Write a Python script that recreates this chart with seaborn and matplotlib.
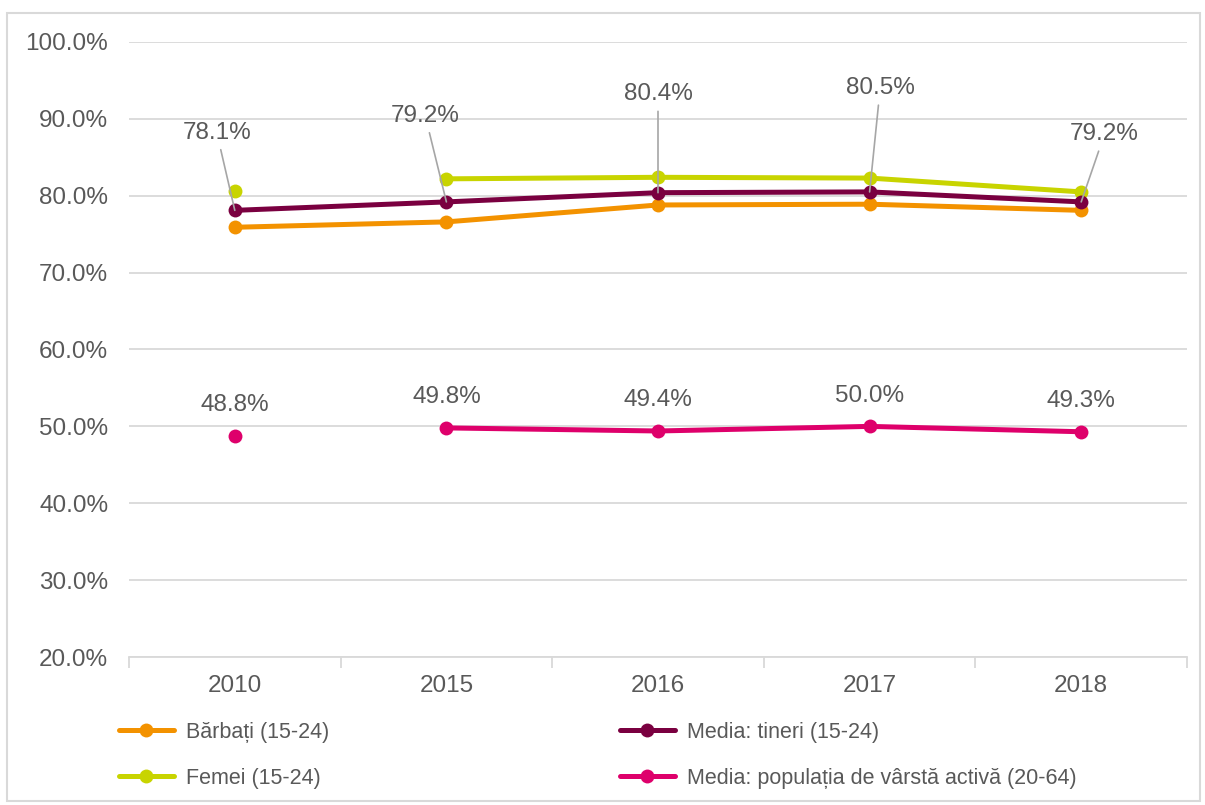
"""
Rata de ocupare / participare (15-24 vs 20-64), 2010-2018
Line chart recreated with seaborn
"""

import pandas as pd
import matplotlib.pyplot as plt
import seaborn as sns
from matplotlib.patches import Rectangle

# ============================================================================
# 1. DATA
# ============================================================================

years = ['2010', '2015', '2016', '2017', '2018']

barbati = [75.9, 76.6, 78.8, 78.9, 78.1]
femei = [80.6, 82.2, 82.4, 82.3, 80.5]
media_tineri = [78.1, 79.2, 80.4, 80.5, 79.2]
media_populatie = [48.8, 49.8, 49.4, 50.0, 49.3]

series_names = ['Bărbați (15-24)', 'Femei (15-24)',
                'Media: tineri (15-24)',
                'Media: populația de vârstă activă (20-64)']

# label positions for the "Media: tineri" call-outs (data coords)
tineri_label_x = [-0.085, 0.90, 2.0, 3.05, 4.11]
tineri_label_y = [88.2, 90.4, 93.2, 94.0, 88.0]

# ============================================================================
# 2. STYLE
# ============================================================================

sns.set_theme(style='white')
plt.rcParams['font.family'] = ['Liberation Sans', 'DejaVu Sans']

TEXT = '#595959'
GRID = '#D9D9D9'
colors = {
    'Bărbați (15-24)': '#F39200',
    'Femei (15-24)': '#C8D400',
    'Media: tineri (15-24)': '#7A0040',
    'Media: populația de vârstă activă (20-64)': '#DE006B',
}
FS = 17.5
FS_LEG = 15.5
LW = 3.6

# ============================================================================
# 3. BUILD LONG TABLE
# ============================================================================

rows = []
for name, vals in zip(series_names, [barbati, femei, media_tineri, media_populatie]):
    for i, v in enumerate(vals):
        # Femei and the 20-64 average have no line between 2010 and 2015
        seg = 'b' if (i > 0 and name in (series_names[1], series_names[3])) else 'a'
        rows.append({'pos': i, 'year': years[i], 'value': v, 'series': name, 'seg': seg})
df = pd.DataFrame(rows)

# ============================================================================
# 4. PLOT
# ============================================================================

fig = plt.figure(figsize=(12.05, 8.05), dpi=100)
ax = fig.add_axes([129 / 1205, 1 - 657 / 805, (1187 - 129) / 1205, (657 - 42) / 805])

for name in series_names:
    sub = df[df['series'] == name]
    for seg, part in sub.groupby('seg'):
        if len(part) > 1:
            sns.lineplot(data=part, x='pos', y='value', ax=ax, color=colors[name],
                         linewidth=LW, marker='o', markersize=10,
                         markeredgewidth=0, sort=True)
        else:
            sns.scatterplot(data=part, x='pos', y='value', ax=ax, color=colors[name],
                            s=100, linewidth=0, zorder=3)

# call-outs for Media tineri
for i, v in enumerate(media_tineri):
    ax.annotate(f'{v:.1f}%', xy=(i, v), xytext=(tineri_label_x[i], tineri_label_y[i]),
                ha='center', va='center', fontsize=FS, color=TEXT,
                arrowprops=dict(arrowstyle='-', color='#A6A6A6', lw=1.2,
                                shrinkA=2, shrinkB=0))

# labels for the 20-64 average
for i, v in enumerate(media_populatie):
    ax.annotate(f'{v:.1f}%', xy=(i, v), xytext=(0, 22), textcoords='offset points',
                ha='center', va='center', fontsize=FS, color=TEXT)

# axes
ax.set_xlim(-0.5, len(years) - 0.5)
ax.set_ylim(20, 100)
ax.set_yticks(range(20, 101, 10))
ax.set_yticklabels([f'{t:.1f}%' for t in range(20, 101, 10)])
ax.set_xticks(range(len(years)))
ax.set_xticklabels(years)
ax.set_xticks([i - 0.5 for i in range(len(years) + 1)], minor=True)
ax.set_xlabel('')
ax.set_ylabel('')

ax.grid(axis='y', color=GRID, linewidth=1.3)
ax.set_axisbelow(True)
for s in ['left', 'right', 'top']:
    ax.spines[s].set_visible(False)
ax.spines['bottom'].set_color(GRID)
ax.spines['bottom'].set_linewidth(1.3)

ax.tick_params(axis='y', length=0, pad=15, labelsize=FS, labelcolor=TEXT)
ax.tick_params(axis='x', which='major', length=0, pad=13, labelsize=FS, labelcolor=TEXT)
ax.tick_params(axis='x', which='minor', length=8, width=1.3, color=GRID, direction='out',
               bottom=True)

# legend
handles = [plt.Line2D([], [], color=colors[n], linewidth=LW, marker='o',
                      markersize=10, markeredgewidth=0) for n in series_names]
leg = fig.legend(handles, series_names, loc='upper left',
                 bbox_to_anchor=(119 / 1205, 1 - 722 / 805), ncol=2, frameon=False,
                 fontsize=FS_LEG, handlelength=2.55, handletextpad=0.56,
                 columnspacing=13.5, labelspacing=1.15, borderpad=0, borderaxespad=0)
for t in leg.get_texts():
    t.set_color(TEXT)

# outer frame
fig.patches.append(Rectangle((7 / 1205, 4 / 805), 1193 / 1205, 788 / 805,
                             transform=fig.transFigure, fill=False,
                             edgecolor=GRID, linewidth=1.5))

fig.savefig('out.png', dpi=100)
